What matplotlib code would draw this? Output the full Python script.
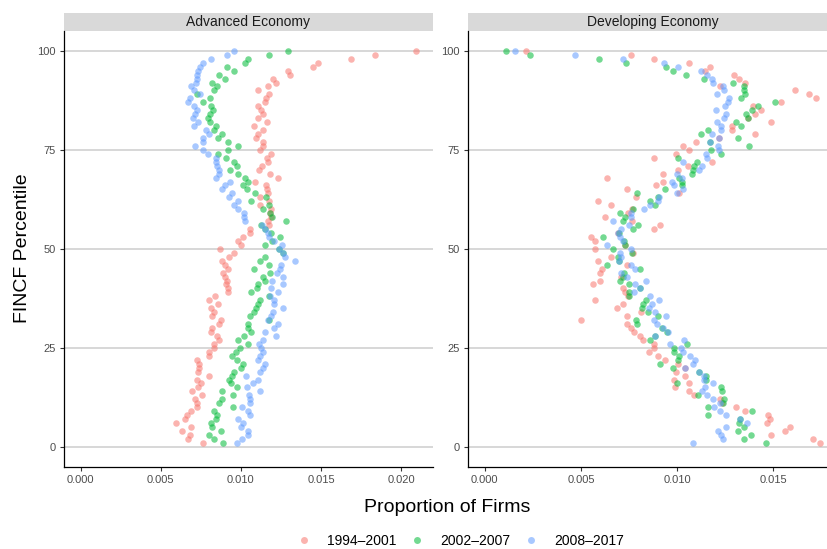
import numpy as np
import matplotlib
matplotlib.use("Agg")
import matplotlib.pyplot as plt
from matplotlib.patches import Rectangle
from matplotlib.lines import Line2D

plt.rcParams['font.family'] = ['Liberation Sans', 'DejaVu Sans']

# percentiles 100 -> 1
pct = np.arange(100, 0, -1)

periods = ["1994\u20132001", "2002\u20132007", "2008\u20132017"]
colors = ["#F8766D", "#00BA38", "#619CFF"]
panels = ["Advanced Economy", "Developing Economy"]

# proportion of firms, Advanced Economy (percentile 100 down to 1)
adv_1994 = [0.02092, 0.01836, 0.01688, 0.01480, 0.01451, 0.01293, 0.01306, 0.01201, 0.01217, 0.01168,
            0.01105, 0.01174, 0.01155, 0.01151, 0.01109, 0.01128, 0.01135, 0.01105, 0.01161, 0.01079,
            0.01141, 0.01105, 0.01092, 0.01138, 0.01141, 0.01118, 0.01188, 0.01164, 0.01171, 0.01131,
            0.01112, 0.01181, 0.01230, 0.01089, 0.01158, 0.01164, 0.01168, 0.01122, 0.01178, 0.01122,
            0.01191, 0.01184, 0.01188, 0.01171, 0.01178, 0.01056, 0.01059, 0.01013, 0.00984, 0.01003,
            0.00872, 0.00957, 0.00924, 0.00882, 0.00898, 0.00918, 0.00888, 0.00901, 0.00911, 0.00905,
            0.00921, 0.00918, 0.00836, 0.00799, 0.00859, 0.00816, 0.00832, 0.00819, 0.00875, 0.00862,
            0.00819, 0.00816, 0.00852, 0.00865, 0.00832, 0.00829, 0.00799, 0.00803, 0.00727, 0.00737,
            0.00737, 0.00730, 0.00799, 0.00724, 0.00753, 0.00734, 0.00694, 0.00760, 0.00714, 0.00724,
            0.00724, 0.00688, 0.00664, 0.00648, 0.00592, 0.00688, 0.00635, 0.00684, 0.00671, 0.00766]
adv_2002 = [0.01296, 0.01174, 0.01043, 0.01023, 0.00911, 0.00954, 0.00862, 0.00898, 0.00822, 0.00852,
            0.00832, 0.00724, 0.00806, 0.00766, 0.00816, 0.00826, 0.00809, 0.00796, 0.00806, 0.00845,
            0.00829, 0.00882, 0.00855, 0.00918, 0.00980, 0.00921, 0.00855, 0.00905, 0.00954, 0.00977,
            0.00934, 0.00984, 0.01026, 0.01043, 0.01010, 0.01039, 0.01089, 0.01155, 0.01062, 0.01178,
            0.01141, 0.01181, 0.01194, 0.01280, 0.01128, 0.01151, 0.01191, 0.01243, 0.01197, 0.01151,
            0.01237, 0.01263, 0.01151, 0.01122, 0.01174, 0.01079, 0.01181, 0.01138, 0.01148, 0.01105,
            0.01102, 0.01066, 0.01174, 0.01118, 0.01109, 0.01092, 0.01082, 0.01056, 0.01174, 0.01043,
            0.01046, 0.01062, 0.01020, 0.00980, 0.01046, 0.00997, 0.00967, 0.00944, 0.00974, 0.01010,
            0.01000, 0.00957, 0.00944, 0.00924, 0.00938, 0.00977, 0.00885, 0.00951, 0.00882, 0.00862,
            0.00951, 0.00832, 0.00849, 0.00842, 0.00816, 0.00822, 0.00875, 0.00799, 0.00829, 0.00891]
adv_2008 = [0.00957, 0.00911, 0.00816, 0.00763, 0.00747, 0.00734, 0.00727, 0.00724, 0.00717, 0.00688,
            0.00707, 0.00747, 0.00684, 0.00671, 0.00707, 0.00724, 0.00714, 0.00701, 0.00734, 0.00707,
            0.00780, 0.00803, 0.00763, 0.00763, 0.00714, 0.00763, 0.00796, 0.00842, 0.00842, 0.00852,
            0.00862, 0.00865, 0.00845, 0.00934, 0.00898, 0.00882, 0.00944, 0.00928, 0.00980, 0.00957,
            0.00984, 0.01020, 0.01020, 0.01023, 0.01132, 0.01148, 0.01168, 0.01178, 0.01207, 0.01257,
            0.01237, 0.01260, 0.01276, 0.01336, 0.01250, 0.01243, 0.01227, 0.01260, 0.01197, 0.01260,
            0.01188, 0.01230, 0.01184, 0.01204, 0.01204, 0.01260, 0.01201, 0.01188, 0.01168, 0.01230,
            0.01207, 0.01151, 0.01220, 0.01138, 0.01112, 0.01128, 0.01138, 0.01122, 0.01109, 0.01148,
            0.01141, 0.01118, 0.01033, 0.01105, 0.01076, 0.01039, 0.01122, 0.01049, 0.01059, 0.01056,
            0.01007, 0.01046, 0.01059, 0.00980, 0.01016, 0.01000, 0.01043, 0.01046, 0.01007, 0.00974]

# proportion of firms, Developing Economy (percentile 100 down to 1)
dev_1994 = [0.00214, 0.00760, 0.00878, 0.01064, 0.01169, 0.01147, 0.01295, 0.01322, 0.01355, 0.01223,
            0.01613, 0.01684, 0.01720, 0.01542, 0.01393, 0.01437, 0.01404, 0.01369, 0.01487, 0.01286,
            0.01286, 0.01404, 0.01215, 0.01100, 0.01029, 0.01064, 0.00993, 0.00878, 0.01182, 0.01059,
            0.01007, 0.00924, 0.00634, 0.00924, 0.00889, 0.00738, 0.01009, 0.00787, 0.00587, 0.00656,
            0.00765, 0.00743, 0.00623, 0.00763, 0.00913, 0.00878, 0.00694, 0.00551, 0.00573, 0.00727,
            0.00573, 0.00768, 0.00656, 0.00587, 0.00738, 0.00609, 0.00598, 0.00710, 0.00598, 0.00565,
            0.00716, 0.00727, 0.00743, 0.00573, 0.00716, 0.00688, 0.00812, 0.00738, 0.00502, 0.00738,
            0.00760, 0.00774, 0.00809, 0.00820, 0.00878, 0.00881, 0.00853, 0.00902, 0.00935, 0.01004,
            0.01042, 0.00993, 0.01042, 0.00982, 0.01064, 0.00987, 0.01064, 0.01089, 0.01221, 0.01232,
            0.01308, 0.01355, 0.01473, 0.01484, 0.01465, 0.01588, 0.01563, 0.01487, 0.01706, 0.01742]
dev_2002 = [0.00110, 0.00233, 0.00592, 0.00735, 0.00944, 0.00979, 0.01045, 0.01138, 0.01289, 0.01347,
            0.01347, 0.01352, 0.01333, 0.01509, 0.01421, 0.01388, 0.01358, 0.01366, 0.01308, 0.01333,
            0.01163, 0.01122, 0.01314, 0.01171, 0.01374, 0.01177, 0.01226, 0.01004, 0.01105, 0.01089,
            0.01083, 0.01078, 0.01012, 0.01023, 0.01023, 0.00935, 0.00790, 0.00900, 0.00859, 0.00886,
            0.00768, 0.00705, 0.00727, 0.00719, 0.00798, 0.00768, 0.00699, 0.00614, 0.00724, 0.00730,
            0.00667, 0.00763, 0.00694, 0.00699, 0.00636, 0.00806, 0.00724, 0.00719, 0.00702, 0.00752,
            0.00806, 0.00749, 0.00749, 0.00839, 0.00823, 0.00815, 0.00848, 0.00900, 0.00787, 0.00790,
            0.00919, 0.00949, 0.00886, 0.00861, 0.01053, 0.00982, 0.00985, 0.01009, 0.01004, 0.00913,
            0.00979, 0.01116, 0.01152, 0.01149, 0.00998, 0.01226, 0.01232, 0.01111, 0.01243, 0.01237,
            0.01163, 0.01391, 0.01158, 0.01325, 0.01322, 0.01347, 0.01314, 0.01385, 0.01347, 0.01462]
dev_2008 = [0.00159, 0.00469, 0.00716, 0.00933, 0.01004, 0.01122, 0.01155, 0.01180, 0.01188, 0.01237,
            0.01243, 0.01207, 0.01270, 0.01262, 0.01251, 0.01204, 0.01254, 0.01243, 0.01207, 0.01229,
            0.01226, 0.01180, 0.01218, 0.01169, 0.01212, 0.01215, 0.01149, 0.01155, 0.01031, 0.01127,
            0.01116, 0.00998, 0.01023, 0.00974, 0.00985, 0.01031, 0.00998, 0.00908, 0.00902, 0.00861,
            0.00826, 0.00760, 0.00760, 0.00669, 0.00752, 0.00708, 0.00694, 0.00705, 0.00721, 0.00634,
            0.00760, 0.00702, 0.00710, 0.00699, 0.00760, 0.00779, 0.00708, 0.00738, 0.00837, 0.00782,
            0.00809, 0.00776, 0.00861, 0.00908, 0.00870, 0.00853, 0.00886, 0.00941, 0.00881, 0.00897,
            0.00927, 0.00955, 0.00883, 0.01037, 0.00963, 0.01020, 0.01031, 0.01067, 0.01094, 0.01081,
            0.01040, 0.01114, 0.01141, 0.01141, 0.01188, 0.01144, 0.01130, 0.01155, 0.01185, 0.01221,
            0.01193, 0.01223, 0.01254, 0.01325, 0.01361, 0.01254, 0.01210, 0.01226, 0.01237, 0.01083]

panel_data = [[adv_1994, adv_2002, adv_2008], [dev_1994, dev_2002, dev_2008]]
xlims = [(-0.00105, 0.02197), (-0.00087, 0.01829)]
xticks = [[0.000, 0.005, 0.010, 0.015, 0.020], [0.000, 0.005, 0.010, 0.015]]

fig = plt.figure(figsize=(8.27, 5.49), dpi=100)

ax_w = 0.4456
ax_b = 0.150
ax_h = 0.7935
lefts = [0.0774, 0.566]
strip_h = 18 / (ax_h * 549)

for i in range(2):
    ax = fig.add_axes([lefts[i], ax_b, ax_w, ax_h])
    for vals, col in zip(panel_data[i], colors):
        ax.scatter(vals, pct, s=22, color=col, alpha=0.55, linewidths=0, zorder=3)
    ax.set_xlim(*xlims[i])
    ax.set_ylim(-5, 105)
    ax.set_xticks(xticks[i])
    ax.set_xticklabels(["%.3f" % t for t in xticks[i]])
    ax.set_yticks([0, 25, 50, 75, 100])
    ax.yaxis.grid(True, color="#D4D4D4", linewidth=1.3, zorder=0)
    ax.set_axisbelow(True)
    for side in ["top", "right"]:
        ax.spines[side].set_visible(False)
    for side in ["left", "bottom"]:
        ax.spines[side].set_color("black")
        ax.spines[side].set_linewidth(0.9)
    ax.tick_params(axis="both", length=3, width=0.8, color="#333333",
                   labelsize=8, labelcolor="#4D4D4D", pad=3)
    # facet strip
    ax.add_patch(Rectangle((0, 1), 1, strip_h, transform=ax.transAxes,
                           facecolor="#D9D9D9", edgecolor="none", clip_on=False))
    ax.text(0.5, 1 + strip_h / 2, panels[i], transform=ax.transAxes,
            ha="center", va="center", fontsize=10, color="#1A1A1A")

fig.text(0.027, 0.548, "FINCF Percentile", rotation=90, ha="center", va="center", fontsize=14)
fig.text(0.541, 0.075, "Proportion of Firms", ha="center", va="center", fontsize=14)

handles = [Line2D([], [], marker="o", linestyle="none", markersize=5,
                  markerfacecolor=c, markeredgewidth=0, alpha=0.55) for c in colors]
fig.legend(handles, periods, loc="center", bbox_to_anchor=(0.557, 0.015), ncol=3,
           frameon=False, fontsize=10, handletextpad=1.2, columnspacing=0.95,
           handlelength=1.0)

fig.savefig("out.png", dpi=100)
